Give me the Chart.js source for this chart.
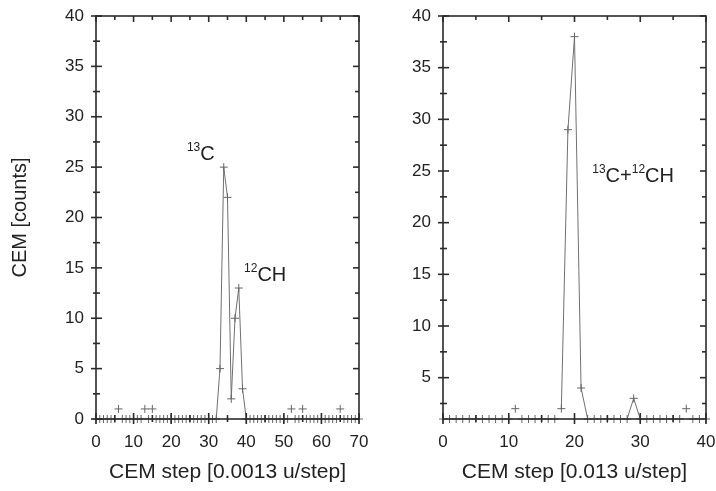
<!DOCTYPE html>
<html>
<head>
<meta charset="utf-8">
<script src="https://cdn.jsdelivr.net/npm/chart.js@4.4.1/dist/chart.umd.min.js"></script>
<style>
  body { margin: 0; background: #fff; }
  #wrap { position: relative; width: 716px; height: 491px; }
  canvas { position: absolute; top: 0; }
</style>
</head>
<body>
<div id="wrap">
  <canvas id="leftChart" width="370" height="491" style="left:0"></canvas>
  <canvas id="rightChart" width="346" height="491" style="left:370px"></canvas>
</div>
<script>
// left panel: fine steps (0.0013 u/step)
var leftSteps = [];
for (var i = 0; i <= 70; i++) leftSteps.push(i);
var leftCounts = [0,0,0,0,0,0,1,0,0,0, 0,0,0,1,0,1,0,0,0,0,
                  0,0,0,0,0,0,0,0,0,0, 0,0,0,5,25,22,2,10,13,3,
                  0,0,0,0,0,0,0,0,0,0, 0,0,1,0,0,1,0,0,0,0,
                  0,0,0,0,0,1,0,0,0,0, 0];
var leftXTicks = [0, 10, 20, 30, 40, 50, 60, 70];
var leftYTicks = [0, 5, 10, 15, 20, 25, 30, 35, 40];

// right panel: coarse steps (0.013 u/step)
var rightSteps = [];
for (var j = 0; j <= 40; j++) rightSteps.push(j);
var rightCounts = [1,1,1,1,1,1,1,1,1,1, 1,2,1,1,1,1,1,1,2,29,
                   38,4,1,1,1,1,1,1,1,3, 1,1,1,1,1,1,1,2,1,1, 1];
var rightXTicks = [0, 10, 20, 30, 40];
var rightYTicks = [5, 10, 15, 20, 25, 30, 35, 40];

var FONT = "'Liberation Sans', Arial, sans-serif";
var AXIS = '#2b2b2b';
var LINE = '#707070';
var TEXT = '#222';

// box frame with inward/crossing ticks like the original plot program
var frameTicks = {
  id: 'frameTicks',
  afterDatasetsDraw: function(chart) {
    var ctx = chart.ctx, a = chart.chartArea;
    var xs = chart.scales.x, ys = chart.scales.y;
    ctx.save();
    ctx.strokeStyle = AXIS;
    ctx.lineWidth = 1.6;
    ctx.strokeRect(a.left, a.top, a.right - a.left, a.bottom - a.top);

    function seg(x1, y1, x2, y2) {
      ctx.beginPath(); ctx.moveTo(x1, y1); ctx.lineTo(x2, y2); ctx.stroke();
    }
    function minors(scale) {
      var v = scale.ticks.map(function(t) { return t.value; });
      var step = v[1] - v[0], out = [];
      for (var k = 0; k < v.length - 1; k++) out.push(v[k] + step / 2);
      for (var m = v[0] - step / 2; m >= scale.min; m -= step) out.push(m);
      return out;
    }

    xs.ticks.forEach(function(t) {
      var p = xs.getPixelForValue(t.value);
      seg(p, a.bottom - 6, p, a.bottom + 5);
      seg(p, a.top, p, a.top + 6);
    });
    minors(xs).forEach(function(v) {
      var p = xs.getPixelForValue(v);
      seg(p, a.bottom - 4, p, a.bottom + 3);
      seg(p, a.top, p, a.top + 4);
    });
    ys.ticks.forEach(function(t) {
      var p = ys.getPixelForValue(t.value);
      seg(a.left - 5, p, a.left + 6, p);
      seg(a.right - 6, p, a.right, p);
    });
    minors(ys).forEach(function(v) {
      var p = ys.getPixelForValue(v);
      seg(a.left - 3, p, a.left + 4, p);
      seg(a.right - 4, p, a.right, p);
    });
    ctx.restore();
  }
};

// peak labels with superscript isotope numbers
var peakLabels = {
  id: 'peakLabels',
  afterDraw: function(chart, args, opts) {
    var ctx = chart.ctx;
    ctx.save();
    ctx.fillStyle = TEXT;
    ctx.textBaseline = 'alphabetic';
    ctx.textAlign = 'left';
    (opts.items || []).forEach(function(it) {
      var x = chart.scales.x.getPixelForValue(it.x);
      var y = chart.scales.y.getPixelForValue(it.y);
      it.parts.forEach(function(p) {
        if (p[1]) {
          ctx.font = '12px ' + FONT;
          ctx.fillText(p[0], x, y - 9);
        } else {
          ctx.font = '20px ' + FONT;
          ctx.fillText(p[0], x, y);
        }
        x += ctx.measureText(p[0]).width;
      });
    });
    ctx.restore();
  }
};

function makeChart(id, steps, counts, xTicks, yTicks, yMin, xMax, yWidth, padRight, xTitle, yTitle, labels) {
  var ctx = document.getElementById(id).getContext('2d');
  return new Chart(ctx, {
    type: 'line',
    data: {
      labels: steps,
      datasets: [{
        data: counts,
        borderColor: LINE,
        borderWidth: 1,
        pointStyle: 'cross',
        pointRadius: 4,
        pointBorderWidth: 1,
        pointBorderColor: '#666',
        pointHoverRadius: 4,
        clip: false,
        segment: {
          // baseline blips were not joined in the original
          borderColor: function(s) {
            return (s.p0.parsed.y <= 2 && s.p1.parsed.y <= 2) ? 'rgba(0,0,0,0)' : LINE;
          }
        }
      }]
    },
    options: {
      responsive: false,
      animation: false,
      layout: { padding: { top: 16, right: padRight, bottom: 0, left: 0 } },
      plugins: {
        legend: { display: false },
        tooltip: { enabled: false },
        peakLabels: { items: labels }
      },
      scales: {
        x: {
          type: 'linear',
          min: 0, max: xMax,
          afterBuildTicks: function(s) { s.ticks = xTicks.map(function(v) { return { value: v }; }); },
          afterFit: function(s) { s.height = 72; s.paddingLeft = 0; s.paddingRight = 0; },
          grid: { display: false, drawTicks: false },
          border: { display: false },
          ticks: { color: TEXT, font: { family: FONT, size: 17 }, padding: 13, maxRotation: 0 },
          title: { display: true, text: xTitle, color: TEXT, font: { family: FONT, size: 21 }, padding: { top: 4, bottom: 6 } }
        },
        y: {
          type: 'linear',
          min: yMin, max: 40,
          afterBuildTicks: function(s) { s.ticks = yTicks.map(function(v) { return { value: v }; }); },
          afterFit: function(s) { s.width = yWidth; s.paddingTop = 0; s.paddingBottom = 0; },
          grid: { display: false, drawTicks: false },
          border: { display: false },
          ticks: { color: TEXT, font: { family: FONT, size: 17 }, padding: 12 },
          title: { display: !!yTitle, text: yTitle, color: TEXT, font: { family: FONT, size: 20 }, padding: { top: 8, bottom: 0 } }
        }
      }
    },
    plugins: [frameTicks, peakLabels]
  });
}

makeChart('leftChart', leftSteps, leftCounts, leftXTicks, leftYTicks, 0, 70, 96, 11,
  'CEM step [0.0013 u/step]', 'CEM [counts]',
  [ { x: 24.2, y: 25.7, parts: [['13', true], ['C', false]] },
    { x: 39.4, y: 13.7, parts: [['12', true], ['CH', false]] } ]);

makeChart('rightChart', rightSteps, rightCounts, rightXTicks, rightYTicks, 1, 40, 73, 10,
  'CEM step [0.013 u/step]', '',
  [ { x: 22.7, y: 23.9, parts: [['13', true], ['C+', false], ['12', true], ['CH', false]] } ]);
</script>
</body>
</html>
